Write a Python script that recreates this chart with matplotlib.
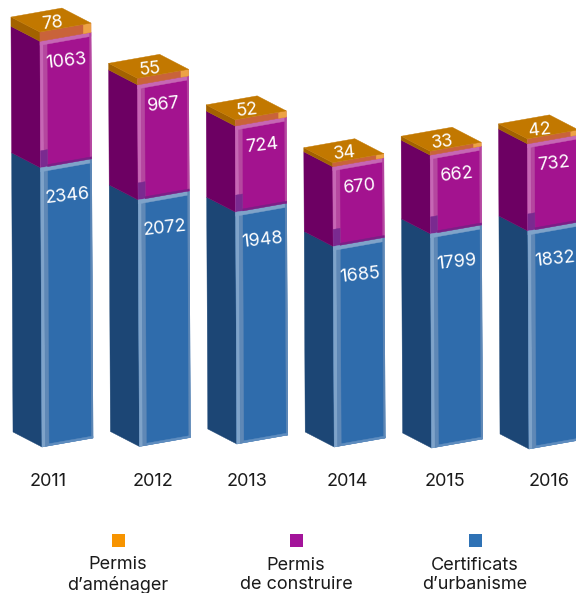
import matplotlib
matplotlib.use("Agg")
import matplotlib.pyplot as plt
from matplotlib.patches import Polygon, Rectangle

plt.rcParams['font.family'] = ['Inter', 'DejaVu Sans']

years = ['2011', '2012', '2013', '2014', '2015', '2016']
certificats = [2346, 2072, 1948, 1685, 1799, 1832]
construire = [1063, 967, 724, 670, 662, 732]
amenager = [78, 55, 52, 34, 33, 42]

legend_labels = ['Permis\nd’aménager', 'Permis\nde construire', 'Certificats\nd’urbanisme']
legend_colors = ['#f79400', '#a3149a', '#2f72b5']

# pixel scales of the axes
SPACING = 97.4
UNIT = 0.119
FIRST_X = 42
BASE_Y = 447
W, H = 576, 593
FS = 13

# nudges for each column, in pixels
base_nudge = [0, 0.5, 3, 0, -1, -2]
year_nudge = [6, 14, 10, 13, 13, 20]

# oblique box edges (px right, px up)
RIGHT = (51, 9)
LEFT = (-29, 15)
LEAN = 2 / 3400

fig = plt.figure(figsize=(W / 100, H / 100), dpi=100)
ax = fig.add_axes([0, 0, 1, 1])
ax.set_xlim(-FIRST_X / SPACING, (W - FIRST_X) / SPACING)
ax.set_ylim((BASE_Y - H) / UNIT, BASE_Y / UNIT)
ax.axis('off')


def pt(i, v, ox=0, oy=0):
    x = i + (ox - v * LEAN) / SPACING
    y = v + (oy + base_nudge[i]) / UNIT
    return (x, y)


def along(f, up=0):
    # point on the front face, f from left to right, shifted up in px
    return (RIGHT[0] * f, RIGHT[1] * f + up)


def poly(points, color, z=2):
    ax.add_patch(Polygon(points, closed=True, fc=color, ec=color, lw=0.3, zorder=z))


def segment(i, v0, v1, front, side, bevel, bevel2, foot, dark_foot=None):
    poly([pt(i, v0, *LEFT), pt(i, v0), pt(i, v1), pt(i, v1, *LEFT)], side)
    poly([pt(i, v0), pt(i, v0, *RIGHT), pt(i, v1, *RIGHT), pt(i, v1)], front)
    s = 7 / RIGHT[0]
    top = v1 - 4 / UNIT
    # left bevel, lighter towards the corner
    for k, col in enumerate([bevel, bevel2]):
        a, b = s * k / 2, s * (k + 1) / 2
        poly([pt(i, v0, *along(a)), pt(i, v0, *along(b)),
              pt(i, v1, *along(b)), pt(i, v1, *along(a))], col, 3)
    if dark_foot:
        poly([pt(i, v0), pt(i, v0, *along(s)),
              pt(i, v0 + 17 / UNIT, *along(s)), pt(i, v0 + 17 / UNIT)], dark_foot, 3)
    # top, right and bottom bevels
    poly([pt(i, top), pt(i, top, *RIGHT), pt(i, v1, *RIGHT), pt(i, v1)], bevel, 4)
    poly([pt(i, v0, *along(0.97)), pt(i, v0, *RIGHT),
          pt(i, v1, *RIGHT), pt(i, v1, *along(0.97))], bevel2, 4)
    poly([pt(i, v0, *along(s)), pt(i, v0, *RIGHT),
          pt(i, v0 + 2 / UNIT, *RIGHT), pt(i, v0 + 2 / UNIT, *along(s))], foot, 4)


def cap(i, v0, v1):
    # orange lid with its side and front bands
    poly([pt(i, v0, *LEFT), pt(i, v0), pt(i, v1), pt(i, v1, *LEFT)], '#a36200', 5)
    poly([pt(i, v0), pt(i, v0, *RIGHT), pt(i, v1, *RIGHT), pt(i, v1)], '#c9633a', 5)
    poly([pt(i, v0, *along(0.85)), pt(i, v0, *RIGHT),
          pt(i, v1, *RIGHT), pt(i, v1, *along(0.85))], '#eda245', 5)
    back = (LEFT[0] + RIGHT[0], LEFT[1] + RIGHT[1])
    poly([pt(i, v1), pt(i, v1, *RIGHT), pt(i, v1, *back), pt(i, v1, *LEFT)], '#c27800', 6)


for i, year in enumerate(years):
    blue = certificats[i]
    purple = blue + construire[i]
    orange = purple + amenager[i]

    segment(i, 0, blue, '#2f6cac', '#1c4675', '#7fa3c9', '#5f88b6', '#5f8dbf')
    segment(i, blue, purple, '#a3138f', '#6d0063', '#c667b4', '#b5479f', '#7a1f86', '#7a2a90')
    cap(i, purple, orange)

    rot = 6
    cx = RIGHT[0] / 2 + 1
    ax.text(*pt(i, blue, cx, RIGHT[1] / 2 - 33), f'{blue}', color='white', fontsize=FS,
            rotation=rot, rotation_mode='anchor', ha='center', va='center', zorder=8)
    ax.text(*pt(i, purple, cx, RIGHT[1] / 2 - 24.5), f'{construire[i]}', color='white', fontsize=FS,
            rotation=rot, rotation_mode='anchor', ha='center', va='center', zorder=8)
    ax.text(*pt(i, orange, 12, 9), f'{amenager[i]}', color='white', fontsize=FS,
            rotation=rot, rotation_mode='anchor', ha='center', va='center', zorder=8)

    # year under the column
    ax.text(i + year_nudge[i] / SPACING, (BASE_Y - 481) / UNIT, year, color='#1a1a1a',
            fontsize=FS, ha='center', va='center')

# legend
legend_x = [118, 296, 475]
for x, label, col in zip(legend_x, legend_labels, legend_colors):
    ax.add_patch(Rectangle(((x - 6.5 - FIRST_X) / SPACING, (BASE_Y - 546.5) / UNIT),
                           13 / SPACING, 13 / UNIT, fc=col, ec='none'))
    ax.text((x - FIRST_X) / SPACING, (BASE_Y - 575) / UNIT, label, color='#1a1a1a',
            fontsize=FS, ha='center', va='center', linespacing=1.2, clip_on=True)

fig.savefig('out.png', dpi=100)
